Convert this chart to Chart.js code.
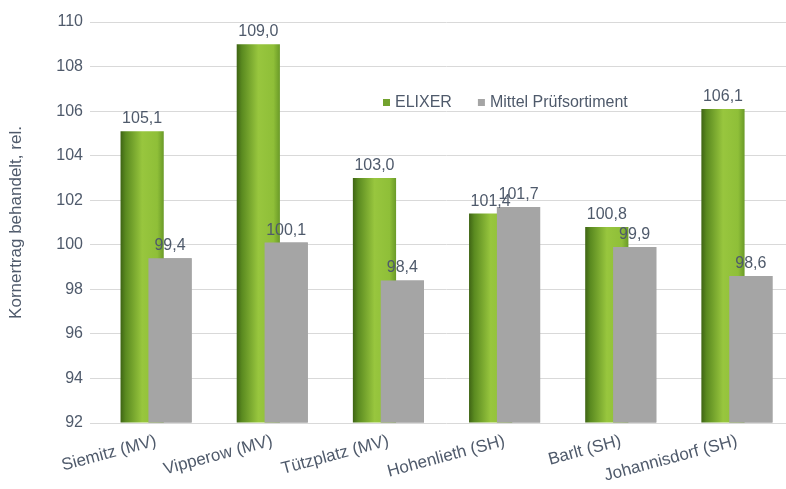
<!DOCTYPE html>
<html>
<head>
<meta charset="utf-8">
<script src="https://cdn.jsdelivr.net/npm/chart.js@4"></script>
<style>
  html, body { margin: 0; padding: 0; background: #fff; overflow: hidden; }
  #wrap { position: absolute; left: 0; top: 0; width: 800px; height: 489px; }
</style>
</head>
<body>
<div id="wrap"><canvas id="ertrag"></canvas></div>
<script>
const standorte = ['Siemitz (MV)', 'Vipperow (MV)', 'Tützplatz (MV)', 'Hohenlieth (SH)', 'Barlt (SH)', 'Johannisdorf (SH)'];
const elixer = [105.1, 109.0, 103.0, 101.4, 100.8, 106.1];
const mittel = [99.4, 100.1, 98.4, 101.7, 99.9, 98.6];

const textColor = '#4f5a6b';
const fontName = '"Liberation Sans", Arial, sans-serif';

// green bars get a horizontal gradient, like the cylinder look of the original
const greenBars = {
  id: 'greenBars',
  beforeDatasetsDraw(chart) {
    const c = chart.ctx;
    chart.getDatasetMeta(0).data.forEach(el => {
      const left = el.x - el.width / 2, right = el.x + el.width / 2;
      const g = c.createLinearGradient(left, 0, right, 0);
      g.addColorStop(0, '#3e6414');
      g.addColorStop(0.12, '#5a8a20');
      g.addColorStop(0.5, '#98c63e');
      g.addColorStop(0.85, '#8fbf38');
      g.addColorStop(1, '#6a9a28');
      el.options.backgroundColor = g;
    });
  },
  // chart.js paints dataset 0 last, so put the grey bars back on top
  afterDatasetsDraw(chart) {
    const c = chart.ctx, a = chart.chartArea;
    c.save();
    c.beginPath();
    c.rect(a.left, a.top, a.right - a.left, a.bottom - a.top);
    c.clip();
    chart.getDatasetMeta(1).data.forEach(el => el.draw(c, a));
    c.restore();
  }
};

const valueLabels = {
  id: 'valueLabels',
  afterDatasetsDraw(chart) {
    const c = chart.ctx;
    c.save();
    c.font = '16px ' + fontName;
    c.fillStyle = textColor;
    c.textAlign = 'center';
    c.textBaseline = 'alphabetic';
    chart.data.datasets.forEach((ds, i) => {
      chart.getDatasetMeta(i).data.forEach((el, j) => {
        c.fillText(ds.data[j].toFixed(1).replace('.', ','), el.x, el.y - 8);
      });
    });
    c.restore();
  }
};

const innerLegend = {
  id: 'innerLegend',
  afterDraw(chart) {
    const c = chart.ctx;
    const swatch = ['#72a22e', '#a5a5a5'];
    c.save();
    c.font = '16px ' + fontName;
    c.textBaseline = 'alphabetic';
    let x = 383;
    const y = 107;
    chart.data.datasets.forEach((ds, i) => {
      c.fillStyle = swatch[i];
      c.fillRect(x, y - 8, 7, 7);
      x += 12;
      c.fillStyle = textColor;
      c.fillText(ds.label, x, y);
      x += c.measureText(ds.label).width + 26;
    });
    c.restore();
  }
};

new Chart(document.getElementById('ertrag'), {
  type: 'bar',
  data: {
    labels: standorte,
    datasets: [
      { label: 'ELIXER', data: elixer, backgroundColor: () => '#86b836' },
      { label: 'Mittel Prüfsortiment', data: mittel, backgroundColor: '#a5a5a5' }
    ]
  },
  options: {
    responsive: true,
    maintainAspectRatio: false,
    animation: false,
    layout: { padding: { top: 22, right: 5, bottom: 0, left: 0 } },
    datasets: {
      bar: { categoryPercentage: 0.48, barPercentage: 1.55, borderWidth: 0, base: 92 }
    },
    plugins: {
      legend: { display: false },
      tooltip: { enabled: false }
    },
    scales: {
      x: {
        grid: { display: false },
        border: { display: false },
        ticks: {
          color: textColor,
          font: { size: 17, family: fontName },
          minRotation: 15,
          maxRotation: 15,
          autoSkip: false,
          padding: 0
        },
        afterFit(scale) { scale.height = 66; }
      },
      y: {
        min: 92,
        max: 110,
        grid: { color: '#d9d9d9' },
        border: { display: false },
        ticks: {
          stepSize: 2,
          color: textColor,
          font: { size: 16, family: fontName },
          padding: 7
        },
        title: {
          display: true,
          text: 'Kornertrag behandelt, rel.',
          color: textColor,
          font: { size: 17, family: fontName },
          padding: { top: 6, bottom: 0 }
        },
        afterFit(scale) { scale.width = 98; }
      }
    }
  },
  plugins: [greenBars, valueLabels, innerLegend]
});
</script>
</body>
</html>
